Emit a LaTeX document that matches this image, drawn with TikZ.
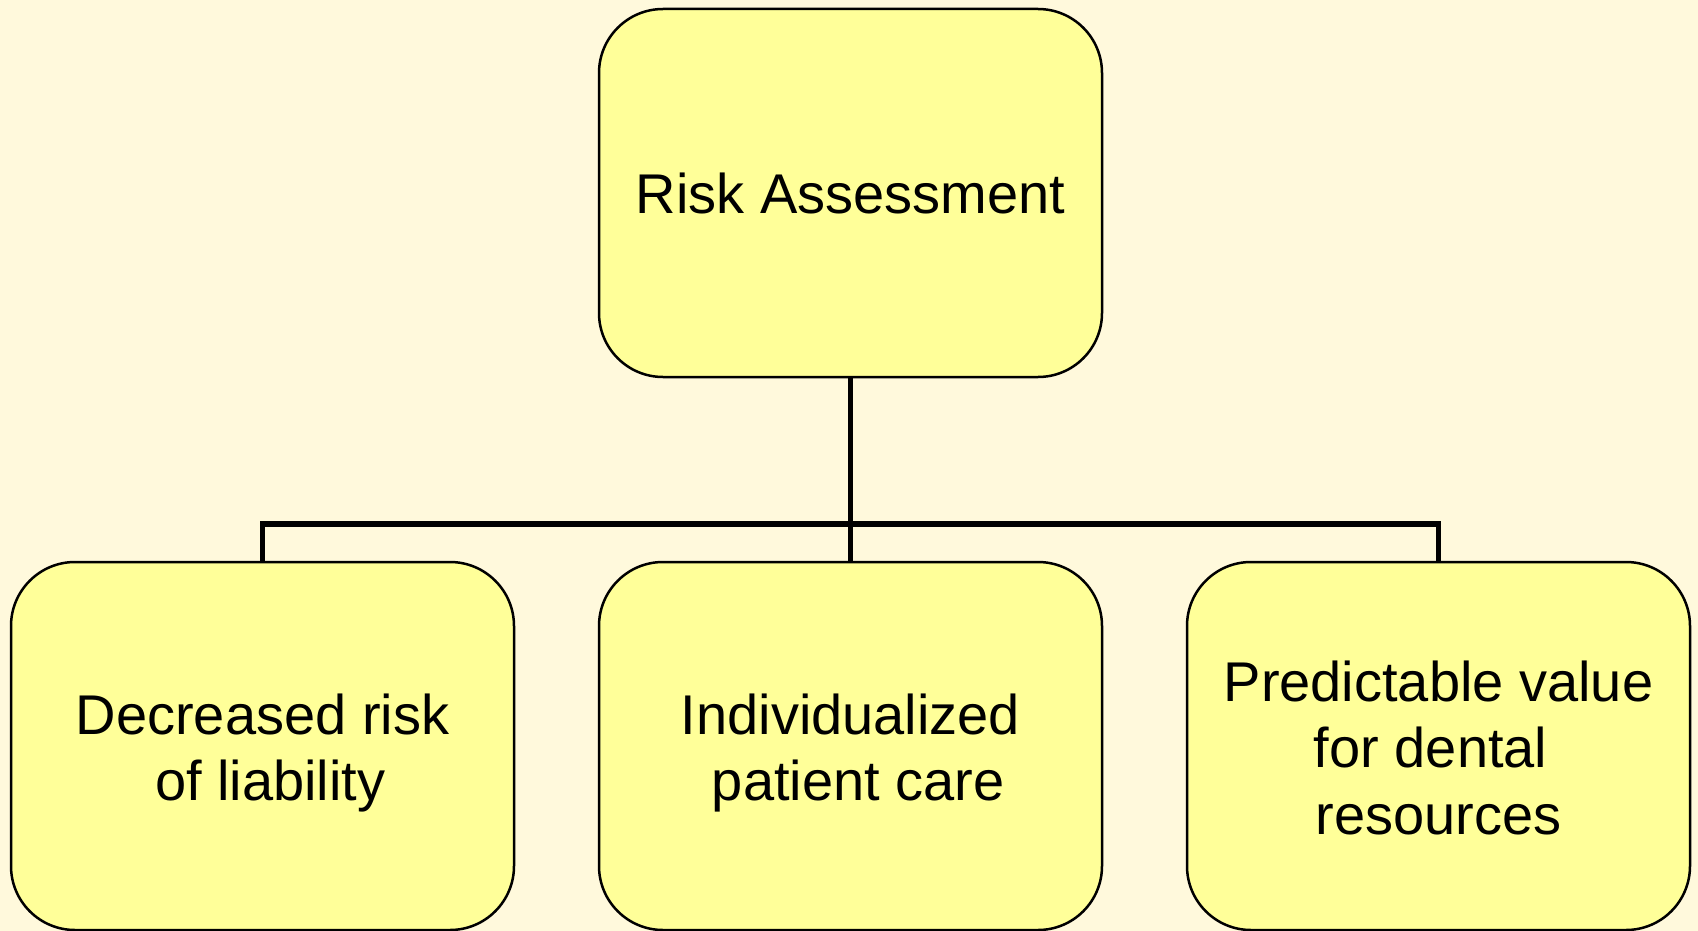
\documentclass[tikz,border=0pt]{standalone}
\usepackage{fontspec}
\setmainfont{Liberation Sans}
\definecolor{bgcream}{RGB}{255,249,220}
\definecolor{boxyellow}{RGB}{255,255,153}
\newcommand\btext[2]{\raisebox{-#1}[\height][\depth]{\begin{tabular}{@{}c@{}}#2\end{tabular}}}
\newcommand\spgap{\hspace*{0.278em}}
\begin{document}
\begin{tikzpicture}[x=0.5pt,y=-0.5pt,
  ybox/.style={draw=black, line width=1.25pt, fill=boxyellow, rounded corners=32pt,
    minimum width=251.5pt, minimum height=184pt, inner sep=0pt, align=center,
    font=\fontsize{28}{33.25}\selectfont},
  conn/.style={draw=black, line width=2.8pt}]
\fill[bgcream] (0,0) rectangle (1698,931);
\useasboundingbox (0,0) rectangle (1698,931);
\node[ybox] (top) at (850.5,193) {\btext{3.5pt}{Risk Assessment}};
\node[ybox] (left) at (262.5,746) {\btext{4pt}{Decreased risk\\\spgap of liability}};
\node[ybox] (mid) at (850.5,746) {\btext{4pt}{Individualized\\\spgap patient care}};
\node[ybox] (right) at (1438.5,746) {\btext{4.1pt}{Predictable value\\for dental\spgap\\resources}};
\coordinate (j) at (850.5,524);
\draw[conn] (top.south) -- (mid.north);
\draw[conn] (left.north) |- (j) -| (right.north);
\end{tikzpicture}
\end{document}
